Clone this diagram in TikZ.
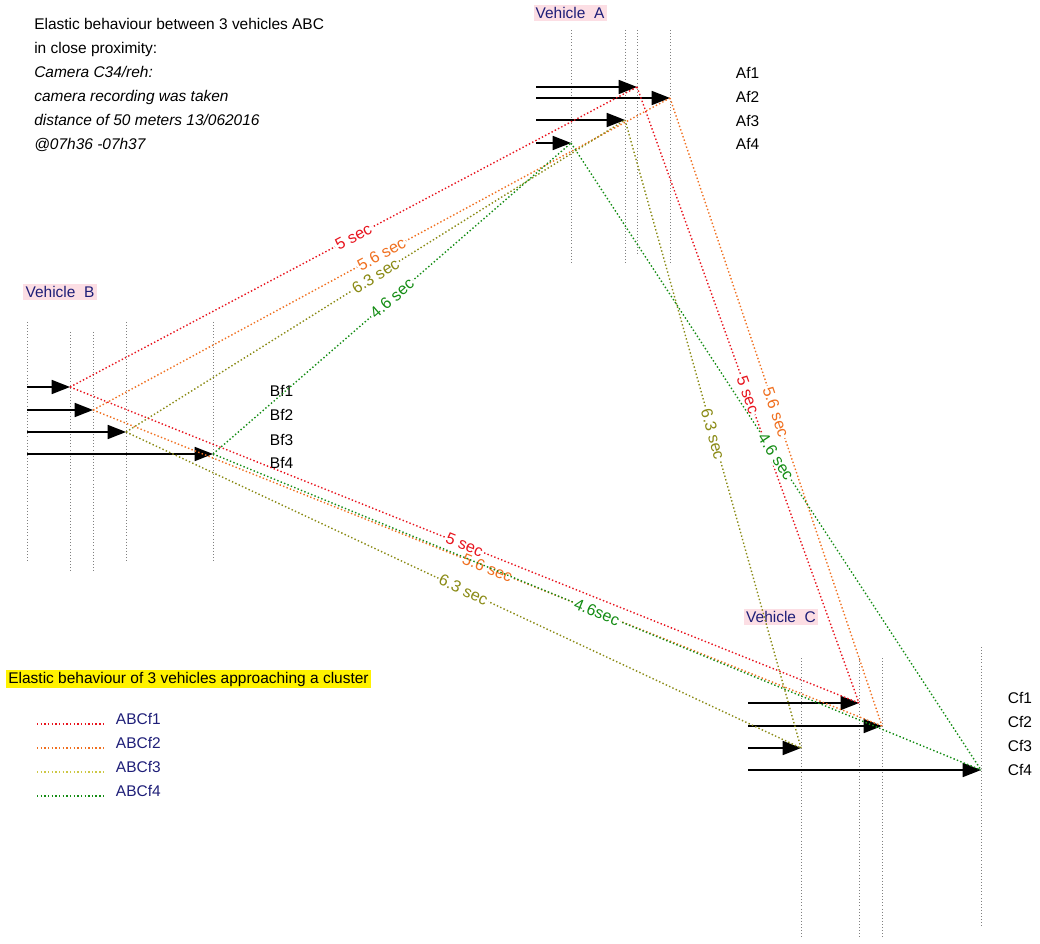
\documentclass[tikz,border=0pt]{standalone}
\usepackage{fontspec}
\setmainfont{Liberation Sans}
\usetikzlibrary{arrows.meta}
\definecolor{fred}{RGB}{232,20,30}
\definecolor{forange}{RGB}{240,112,32}
\definecolor{folive}{RGB}{138,138,20}
\definecolor{fkey}{RGB}{205,200,70}
\definecolor{fgreen}{RGB}{20,140,20}
\definecolor{navy}{RGB}{30,30,120}
\definecolor{pinkbg}{RGB}{252,222,228}
\begin{document}
\begin{tikzpicture}[x=0.025cm, y=-0.025cm, >={Triangle[length=13pt,width=10pt]},
  font=\fontsize{11}{13}\selectfont,
  guide/.style={gray, line width=.6pt, dash pattern=on .6pt off 1.6pt},
  track/.style={line width=1pt, dash pattern=on 1pt off 1.6pt},
  tag/.style={midway, sloped, fill=white, inner sep=1pt, font=\fontsize{11.5}{13}\selectfont},
  vlabel/.style={fill=pinkbg, text=navy, inner sep=1.5pt}]
\useasboundingbox (0,0) rectangle (1040,944);
% notes
\node[anchor=north west, align=left, inner sep=0, font=\fontsize{11}{17}\selectfont] (notes) at (34,18)
 {Elastic behaviour between 3 vehicles ABC\\ in close proximity:\\ \textit{Camera C34/reh:}\\
  \textit{camera recording was taken}\\ \textit{distance of 50 meters 13/062016}\\ \textit{@07h36 -07h37}};
% vehicle A
\node[vlabel] (vA) at (570,13) {Vehicle\ \ A};
\foreach \x/\y in {571/263,625/263,637/253,670/263} \draw[guide] (\x,30)--(\x,\y);
\foreach \i/\x/\y in {1/637/87,2/670/98,3/625/120,4/571/143}{
  \coordinate (a\i) at (\x,\y);
  \coordinate (a\i0) at (536,\y);
  \draw[->, line width=1pt] (a\i0) -- (a\i);}
\foreach \i/\y in {1/73,2/97,3/121,4/144} \node[anchor=west] (af\i) at (731,\y) {Af\i};
% vehicle B
\node[vlabel] (vB) at (60,292) {Vehicle\ \ B};
\foreach \x/\y/\z in {27/322/562,70/332/573,93/332/573,126/322/562,213/322/562} \draw[guide] (\x,\y)--(\x,\z);
\foreach \i/\x/\y in {1/70/387,2/93/410,3/126/432,4/213/454}{
  \coordinate (b\i) at (\x,\y);
  \coordinate (b\i0) at (27,\y);
  \draw[->, line width=1pt] (b\i0) -- (b\i);}
\foreach \i/\y in {1/391,2/415,3/440,4/463} \node[anchor=west] (bf\i) at (265,\y) {Bf\i};
% vehicle C
\node[vlabel] (vC) at (781,617) {Vehicle\ \ C};
\foreach \x/\y/\z in {801/658/937,859/658/937,882/658/937,981/647/926} \draw[guide] (\x,\y)--(\x,\z);
\foreach \i/\x/\y in {1/859/703,2/882/726,3/801/748,4/981/770}{
  \coordinate (c\i) at (\x,\y);
  \coordinate (c\i0) at (748,\y);
  \draw[->, line width=1pt] (c\i0) -- (c\i);}
\foreach \i/\y in {1/698,2/722,3/746,4/770} \node[anchor=west] (cf\i) at (1003,\y) {Cf\i};
% B to A
\draw[track, fred] (b1) -- node[tag]{5 sec} (a1);
\draw[track, forange] (b2) -- node[tag]{5.6 sec} (a2);
\draw[track, folive] (b3) -- node[tag]{6.3 sec} (a3);
\draw[track, fgreen] (b4) -- node[tag]{4.6 sec} (a4);
% A to C
\draw[track, fred] (a1) -- node[tag]{5 sec} (c1);
\draw[track, forange] (a2) -- node[tag]{5.6 sec} (c2);
\draw[track, folive] (a3) -- node[tag]{6.3 sec} (c3);
\draw[track, fgreen] (a4) -- node[tag]{4.6 sec} (c4);
% B to C
\draw[track, fred] (b1) -- node[tag]{5 sec} (c1);
\draw[track, forange] (b2) -- node[tag]{5.6 sec} (c2);
\draw[track, folive] (b3) -- node[tag]{6.3 sec} (c3);
\draw[track, fgreen] (b4) -- node[tag]{4.6sec} (c4);
% legend
\node[fill=yellow, anchor=west, inner sep=1.5pt] (key) at (6,679) {Elastic behaviour of 3 vehicles approaching a cluster};
\foreach \c/\i/\y in {fred/1/719,forange/2/743,fkey/3/767,fgreen/4/791}{
  \node[anchor=west, text=navy] (k\i) at (111,\y) {ABCf\i};
  \draw[track, \c] (37,\y+5) -- ++(66,0);}
\end{tikzpicture}
\end{document}
